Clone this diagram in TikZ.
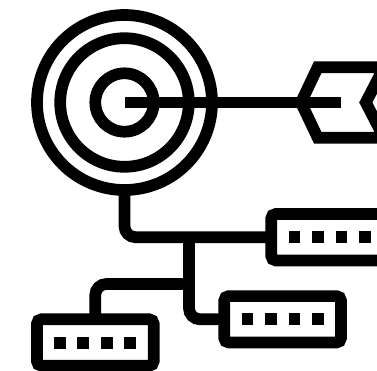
\documentclass[tikz,border=0pt]{standalone}
\usetikzlibrary{arrows.meta,positioning}
\begin{document}
\begin{tikzpicture}[x=1pt,y=-1pt,
 every node/.style={outer sep=0pt,inner sep=0pt},
 ring/.style={draw,circle,line width=11.7pt},
 box/.style={draw,rounded corners=4.5pt,line width=11.7pt,minimum width=116.7pt,minimum height=46.4pt},
 dot/.style={fill,minimum size=11.7pt},
 wire/.style={line width=11.7pt,rounded corners=11pt},
 shaft/.style={line width=11.7pt}]
\useasboundingbox (0,0) rectangle (377,370);
\clip (0,0) rectangle (377,370);
\node[ring,minimum size=175pt] (target) at (124.5,102.5) {};
\node[ring,minimum size=128.6pt] (middle) at (124.5,102.5) {};
\node[ring,minimum size=58.4pt] (bull) at (124.5,102.5) {};
\coordinate (tip) at (341.3,102.5);
\draw[shaft] (bull.center)--(tip);
\draw[shaft,miter limit=10] (384,67.3)--(317.7,67.3)--(301,102.5)--(317.7,137.7)--(384,137.7)--(365.8,102.5)--cycle;
\node[box] (upper) at (329.6,237.2) {};
\node[box] (lower) at (282.6,319.3) {};
\node[box] (left) at (95.3,342.5) {};
\foreach \i in {0,...,3} {
 \node[dot] (upper\i) at (294.5+23.5*\i,237.2) {};
 \node[dot] (lower\i) at (247.5+23.5*\i,319.3) {};
 \node[dot] (left\i) at (59.7+23.5*\i,342.7) {};
}
\coordinate (hub) at (189,237.2);
\coordinate (fork) at (189,284);
\draw[wire] (target.south)|-(upper.west);
\draw[wire] (hub)|-(lower.west);
\draw[wire] (fork)-|(left.north);
\end{tikzpicture}
\end{document}
